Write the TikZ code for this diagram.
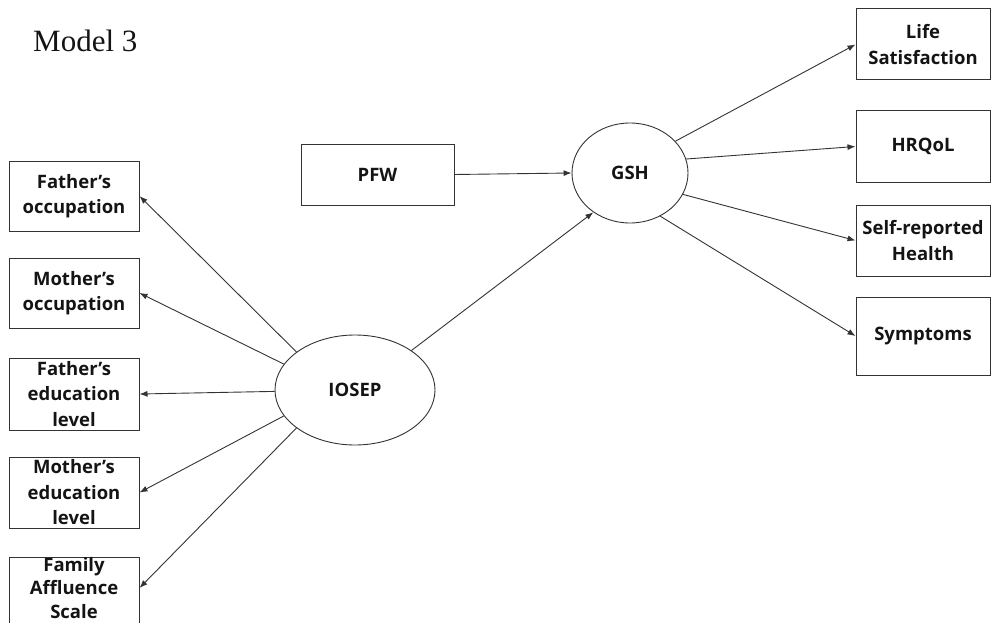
\documentclass[tikz,border=0pt]{standalone}
\usepackage{fontspec}
\setmainfont{Liberation Serif}
\newfontfamily\labelfont{Open Sans}
\usetikzlibrary{shapes.geometric,arrows.meta}

\definecolor{inkline}{HTML}{333333}
\definecolor{inktext}{HTML}{141414}

\tikzset{
  labeltext/.style={inner sep=0pt, align=center, text=inktext,
    font=\labelfont\bfseries\fontsize{18.5}{25.5}\selectfont},
  varbox/.style={labeltext, draw=inkline, line width=1pt, rectangle},
  latent/.style={labeltext, draw=inkline, line width=0.9pt, ellipse},
  path/.style={draw=inkline, line width=0.9pt,
    -{Latex[length=8pt,width=6pt]}}
}

\begin{document}
\begin{tikzpicture}[x=1pt, y=-1pt]
\useasboundingbox (0,0) rectangle (992,623);

% title
\node[anchor=base west, inner sep=0pt, text=inktext,
      font=\fontsize{31}{36}\selectfont] (title) at (33,52) {Model 3};

% observed indicators of IOSEP
\node[varbox, minimum width=130pt, minimum height=70pt] (fo)  at (74,196)   {Father’s\\occupation};
\node[varbox, minimum width=130pt, minimum height=70pt] (mo)  at (74,293)   {Mother’s\\occupation};
\node[varbox, minimum width=130pt, minimum height=72pt] (fe)  at (74,394)   {Father’s\\education\\level};
\node[varbox, minimum width=130pt, minimum height=71pt] (me)  at (74,492.5) {Mother’s\\education\\level};
% the affluence box runs past the lower page edge
\node[varbox, minimum width=130pt, minimum height=74pt] (fas) at (74,594) {};
\node[labeltext, font=\labelfont\bfseries\fontsize{18.5}{23.5}\selectfont]
     (fastext) at (74,588) {Family\\Affluence\\Scale};

% exogenous observed variable
\node[varbox, minimum width=153pt, minimum height=61pt] (pfw) at (377.5,174.5) {PFW};

% latent variables
\node[latent, minimum width=160pt, minimum height=110pt] (iosep) at (355,390) {IOSEP};
\node[latent, minimum width=116pt, minimum height=100pt] (gsh)   at (630,173) {GSH};

% observed indicators of GSH
\node[varbox, minimum width=134pt, minimum height=71pt] (ls) at (923,44.5)  {Life\\Satisfaction};
\node[varbox, minimum width=134pt, minimum height=71pt] (hr) at (923,146.5) {HRQoL};
\node[varbox, minimum width=134pt, minimum height=71pt] (sr) at (923,240.5) {Self-reported\\Health};
\node[varbox, minimum width=134pt, minimum height=78pt] (sy) at (923,336)   {Symptoms};

% loadings of IOSEP
\draw[path] (iosep.147) -- (fo.east);
\draw[path] (iosep.160) -- (mo.east);
\draw[path] (iosep.181) -- (fe.east);
\draw[path] (iosep.200) -- (me.east);
\draw[path] (iosep.213) -- (fastext.east -| fas.east);

% structural paths
\draw[path] (pfw.east) -- (gsh.west);
\draw[path] (iosep.35) -- (gsh.227);

% loadings of GSH
\draw[path] (gsh.35)  -- (ls.west);
\draw[path] (gsh.14)  -- (hr.west);
\draw[path] (gsh.-22) -- (sr.west);
\draw[path] (gsh.-55) -- (sy.west);
\end{tikzpicture}
\end{document}
